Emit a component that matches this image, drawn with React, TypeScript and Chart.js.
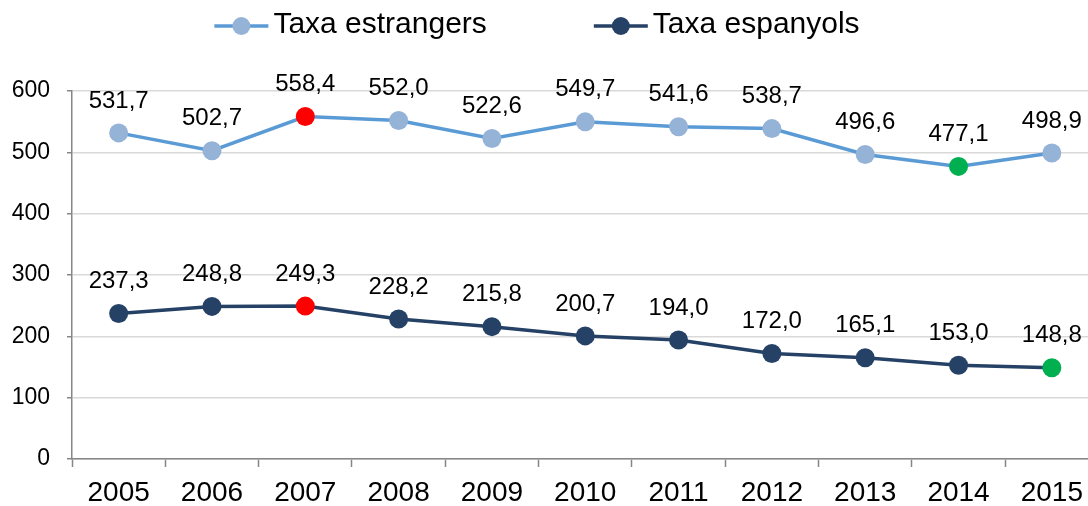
import React, { useEffect, useRef } from 'react';
import { Chart, registerables } from 'chart.js';

Chart.register(...registerables);

const years = ['2005', '2006', '2007', '2008', '2009', '2010', '2011', '2012', '2013', '2014', '2015'];
const taxaEstrangers = [531.7, 502.7, 558.4, 552.0, 522.6, 549.7, 541.6, 538.7, 496.6, 477.1, 498.9];
const taxaEspanyols = [237.3, 248.8, 249.3, 228.2, 215.8, 200.7, 194.0, 172.0, 165.1, 153.0, 148.8];
const seriesNames = ['Taxa estrangers', 'Taxa espanyols'];
const yMin = 0;
const yMax = 600;
const yStep = 100;

const FONT = "'Liberation Sans', Arial, Helvetica, sans-serif";
const MAX_COLOR = '#ff0000';
const MIN_COLOR = '#00b050';

function pointColors(values: number[], base: string): string[] {
  const max = Math.max(...values);
  const min = Math.min(...values);
  return values.map((v) => (v === max ? MAX_COLOR : v === min ? MIN_COLOR : base));
}

const fmt = (v: number) => v.toFixed(1).replace('.', ',');

const dataLabelPlugin = {
  id: 'dataLabels',
  afterDatasetsDraw(chart: any) {
    const ctx = chart.ctx;
    ctx.save();
    ctx.font = `24px ${FONT}`;
    ctx.fillStyle = '#000000';
    ctx.textAlign = 'center';
    ctx.textBaseline = 'middle';
    chart.data.datasets.forEach((ds: any, i: number) => {
      const meta = chart.getDatasetMeta(i);
      meta.data.forEach((pt: any, j: number) => {
        ctx.fillText(fmt(ds.data[j]), pt.x, pt.y - 32);
      });
    });
    ctx.restore();
  },
};

const legendPlugin = {
  id: 'customLegend',
  afterDraw(chart: any) {
    const ctx = chart.ctx;
    ctx.save();
    ctx.font = `30px ${FONT}`;
    const markerW = 54;
    const textGap = 5;
    const itemGap = 107;
    const items = chart.data.datasets.map((ds: any) => ({
      label: ds.label,
      line: ds.borderColor,
      dot: ds.legendDot,
      w: markerW + textGap + ctx.measureText(ds.label).width,
    }));
    const total = items.reduce((s: number, it: any) => s + it.w, 0) + itemGap * (items.length - 1);
    const centerX = 537;
    let x = centerX - total / 2;
    const yMid = 26;
    items.forEach((it: any) => {
      ctx.strokeStyle = it.line;
      ctx.lineWidth = 3.5;
      ctx.beginPath();
      ctx.moveTo(x, yMid);
      ctx.lineTo(x + markerW, yMid);
      ctx.stroke();
      ctx.fillStyle = it.dot;
      ctx.beginPath();
      ctx.arc(x + markerW / 2, yMid, 9, 0, Math.PI * 2);
      ctx.fill();
      ctx.fillStyle = '#000000';
      ctx.textAlign = 'left';
      ctx.textBaseline = 'middle';
      ctx.fillText(it.label, x + markerW + textGap, 25);
      x += it.w + itemGap;
    });
    ctx.restore();
  },
};

export default function App() {
  const canvasRef = useRef<HTMLCanvasElement | null>(null);

  useEffect(() => {
    if (!canvasRef.current) return;
    const estBase = '#95b3d7';
    const espBase = '#264166';
    const chart = new Chart(canvasRef.current, {
      type: 'line',
      data: {
        labels: years,
        datasets: [
          {
            label: seriesNames[0],
            data: taxaEstrangers,
            borderColor: '#5b9bd5',
            borderWidth: 3.5,
            pointRadius: 9.5,
            pointHoverRadius: 9.5,
            pointBorderWidth: 0,
            pointBackgroundColor: pointColors(taxaEstrangers, estBase),
            pointBorderColor: pointColors(taxaEstrangers, estBase),
            tension: 0,
            legendDot: estBase,
          } as any,
          {
            label: seriesNames[1],
            data: taxaEspanyols,
            borderColor: espBase,
            borderWidth: 3.5,
            pointRadius: 9.5,
            pointHoverRadius: 9.5,
            pointBorderWidth: 0,
            pointBackgroundColor: pointColors(taxaEspanyols, espBase),
            pointBorderColor: pointColors(taxaEspanyols, espBase),
            tension: 0,
            legendDot: espBase,
          } as any,
        ],
      },
      options: {
        responsive: false,
        animation: false,
        devicePixelRatio: 1,
        layout: { padding: { top: 91, right: 3, left: 0, bottom: 0 } },
        plugins: {
          legend: { display: false },
          tooltip: { enabled: false },
          title: { display: false },
        },
        scales: {
          x: {
            type: 'category',
            offset: true,
            grid: {
              display: true,
              drawOnChartArea: false,
              drawTicks: true,
              tickLength: 8,
              offset: true,
              tickColor: '#868686',
              tickWidth: 1.5,
            },
            border: { display: true, color: '#868686', width: 1.5 },
            ticks: {
              color: '#000000',
              font: { family: FONT, size: 28 },
              padding: 9,
              maxRotation: 0,
              autoSkip: false,
            },
            afterFit: (scale: any) => {
              scale.height = 47;
            },
          },
          y: {
            min: yMin,
            max: yMax,
            grid: {
              color: '#d9d9d9',
              lineWidth: 1.5,
              drawTicks: true,
              tickLength: 5,
              tickColor: '#868686',
              tickWidth: 1.5,
            },
            border: { display: true, color: '#868686', width: 1.5 },
            ticks: {
              stepSize: yStep,
              color: '#000000',
              font: { family: FONT, size: 23 },
              padding: 17,
            },
            afterFit: (scale: any) => {
              scale.width = 72;
            },
          },
        },
      },
      plugins: [dataLabelPlugin, legendPlugin],
    });
    return () => chart.destroy();
  }, []);

  return (
    <div
      style={{
        position: 'absolute',
        left: 0,
        top: 0,
        width: 1088,
        height: 506,
        overflow: 'hidden',
        background: '#ffffff',
      }}
    >
      <canvas ref={canvasRef} width={1108} height={506} style={{ display: 'block' }} />
    </div>
  );
}
